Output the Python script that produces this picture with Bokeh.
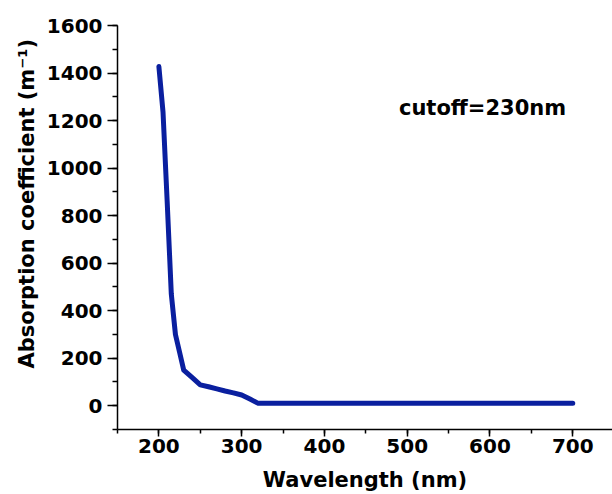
from bokeh.plotting import figure
from bokeh.models import Range1d, SingleIntervalTicker, Label, Title
from bokeh.embed import file_html
from bokeh.resources import INLINE

# Absorption spectrum
wavelength_nm = [200, 205, 210, 215, 220, 225, 230, 240, 250, 260, 270, 280,
                 290, 300, 310, 320, 350, 400, 450, 500, 550, 600, 650, 700]
absorption = [1427, 1235, 860, 470, 300, 225, 150, 119, 88, 80, 71, 62,
              54, 45, 28, 10, 10, 10, 10, 10, 10, 10, 10, 10]

x_title = "Wavelength (nm)"
y_title = "Absorption coefficient (m\u207b\u00b9)"
note = "cutoff=230nm"

FONT = "DejaVu Sans"

p = figure(
    width=612, height=494,
    x_range=Range1d(150, 748), y_range=Range1d(-100, 1600),
    output_backend="svg", toolbar_location=None,
    min_border_left=117, min_border_right=0,
    min_border_top=25, min_border_bottom=65,
)
p.xgrid.grid_line_color = None
p.ygrid.grid_line_color = None
p.outline_line_color = None
p.background_fill_color = "white"
p.border_fill_color = "white"

p.line(wavelength_nm, absorption, line_width=5, line_color="#0a1f9f",
       line_join="round", line_cap="round")

p.xaxis.ticker = SingleIntervalTicker(interval=100, num_minor_ticks=2)
p.yaxis.ticker = SingleIntervalTicker(interval=200, num_minor_ticks=2)

for ax in (p.xaxis, p.yaxis):
    ax.axis_line_color = "black"
    ax.axis_line_width = 1.5
    ax.major_tick_line_color = "black"
    ax.minor_tick_line_color = "black"
    ax.major_tick_line_width = 1.5
    ax.minor_tick_line_width = 1.5
    ax.major_tick_in = 0
    ax.minor_tick_in = 0
    ax.major_label_text_font = FONT
    ax.major_label_text_font_style = "bold"
    ax.major_label_text_font_size = "20px"
    ax.major_label_text_color = "black"

p.xaxis.major_tick_out = 7
p.xaxis.minor_tick_out = 4
p.xaxis.major_label_standoff = 2
p.yaxis.major_tick_out = 10
p.yaxis.minor_tick_out = 5
p.yaxis.major_label_standoff = 5

p.xaxis.axis_label = x_title
p.xaxis.axis_label_text_font = FONT
p.xaxis.axis_label_text_font_style = "bold"
p.xaxis.axis_label_text_font_size = "21px"
p.xaxis.axis_label_text_color = "black"
p.xaxis.axis_label_standoff = 12

# vertical axis title, starts a little above the bottom of the frame
p.add_layout(Title(
    text=y_title, align="left", offset=61,
    text_font=FONT, text_font_style="bold", text_font_size="21px",
    text_color="black",
), "left")

p.add_layout(Label(
    x=490, y=1251, text=note,
    text_align="left", text_baseline="middle",
    text_font=FONT, text_font_style="bold", text_font_size="21px",
    text_color="black",
))

open("out.html", "w").write(file_html(p, INLINE))
